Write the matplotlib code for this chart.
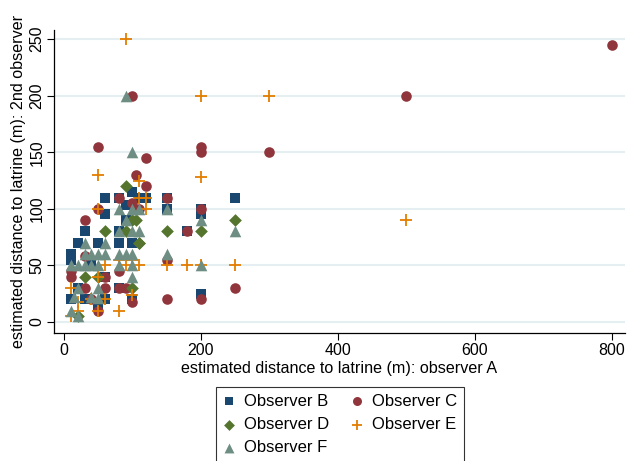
import matplotlib
matplotlib.use("Agg")
import matplotlib.pyplot as plt

plt.rcParams['font.family'] = ['Liberation Sans', 'DejaVu Sans']

# observer A estimate (x) vs. second observer estimate (y), one pair of lists per observer
b_x = [10, 10, 10, 20, 30, 50, 60, 60, 80, 80, 80, 100, 90, 90, 100, 80, 30, 60, 100,
       120, 150, 150, 180, 200, 200, 200, 250, 60, 50, 20, 40, 110]
b_y = [55, 60, 20, 70, 80, 70, 110, 95, 110, 80, 70, 70, 90, 103, 115, 30, 20, 20, 20,
       110, 110, 100, 80, 100, 95, 25, 110, 40, 15, 30, 50, 110]

c_x = [800, 500, 300, 200, 200, 100, 50, 120, 105, 120, 100, 80, 150, 50, 30, 200, 180,
       150, 250, 200, 150, 100, 80, 90, 30, 60, 10, 60, 80, 40, 50, 30, 10, 110]
c_y = [245, 200, 150, 155, 150, 200, 155, 145, 130, 120, 105, 110, 110, 100, 90, 100, 80,
       55, 30, 20, 20, 18, 30, 30, 30, 30, 40, 40, 45, 20, 10, 58, 45, 100]

d_x = [90, 105, 60, 90, 110, 150, 200, 250, 30, 100, 50, 20, 110, 100]
d_y = [120, 90, 80, 80, 70, 80, 80, 90, 40, 30, 40, 5, 70, 90]

e_x = [90, 200, 300, 50, 110, 200, 110, 120, 500, 120, 50, 100, 80, 60, 90, 110, 150,
       180, 200, 250, 50, 10, 40, 60, 100, 20, 10, 20, 50, 80]
e_y = [250, 200, 200, 130, 125, 128, 110, 110, 90, 100, 100, 55, 55, 50, 50, 50, 50,
       50, 50, 50, 40, 30, 20, 20, 24, 18, 5, 10, 10, 10]

f_x = [90, 100, 80, 100, 110, 150, 200, 250, 80, 100, 110, 30, 60, 30, 40, 50, 60, 80,
       90, 100, 150, 10, 20, 30, 40, 50, 80, 100, 200, 100, 20, 50, 15, 40, 50, 10, 20, 90]
f_y = [200, 150, 100, 100, 100, 100, 90, 80, 80, 80, 80, 70, 70, 60, 60, 60, 60, 60,
       60, 60, 60, 50, 50, 50, 50, 50, 50, 50, 50, 40, 30, 30, 22, 22, 21, 10, 5, 90]

x_ticks = [0, 200, 400, 600, 800]
y_ticks = [0, 50, 100, 150, 200, 250]

fig = plt.figure(figsize=(6.28, 4.61), dpi=100)
ax = fig.add_axes([54 / 628, 1 - 333 / 461, (625 - 54) / 628, (333 - 30) / 461])

ax.scatter(b_x, b_y, marker='s', s=48, color='#1a476f', lw=0, label='Observer B', zorder=3)
ax.scatter(c_x, c_y, marker='o', s=58, color='#90353b', lw=0, label='Observer C', zorder=3)
ax.scatter(d_x, d_y, marker='D', s=42, color='#55752f', lw=0, label='Observer D', zorder=3)
ax.scatter(e_x, e_y, marker='+', s=70, color='#e37e00', lw=1.3, label='Observer E', zorder=3)
ax.scatter(f_x, f_y, marker='^', s=70, color='#6e8e84', lw=0, label='Observer F', zorder=3)

ax.set_xlim(-14.6, 819)
ax.set_ylim(-9.7, 258)
ax.set_xticks(x_ticks)
ax.set_yticks(y_ticks)
ax.tick_params(axis='both', labelsize=11.5, length=5, width=0.8, direction='out', pad=2)
for lbl in ax.get_yticklabels():
    lbl.set_rotation(90)
    lbl.set_va('center')

ax.grid(axis='y', color='#e5eef0', lw=1.5)
ax.set_axisbelow(True)
for side in ['top', 'right']:
    ax.spines[side].set_visible(False)
ax.spines['left'].set_linewidth(0.9)
ax.spines['bottom'].set_linewidth(0.9)

ax.set_xlabel('estimated distance to latrine (m): observer A', fontsize=11.6, labelpad=2)
ax.set_ylabel('estimated distance to latrine (m): 2nd observer', fontsize=11.6, labelpad=2)

handles, labels = ax.get_legend_handles_labels()
order = [0, 2, 4, 1, 3]
leg = fig.legend([handles[i] for i in order], [labels[i] for i in order],
                 loc='upper center', bbox_to_anchor=(340 / 628, 1 - 387 / 461),
                 borderaxespad=0, ncol=2, fontsize=12, frameon=True, fancybox=False,
                 handlelength=0.8, handletextpad=0.5, columnspacing=1.25,
                 labelspacing=0.5, borderpad=0.4, markerscale=0.85)
leg.get_frame().set_edgecolor('black')
leg.get_frame().set_linewidth(0.8)

fig.savefig('out.png', dpi=100)
